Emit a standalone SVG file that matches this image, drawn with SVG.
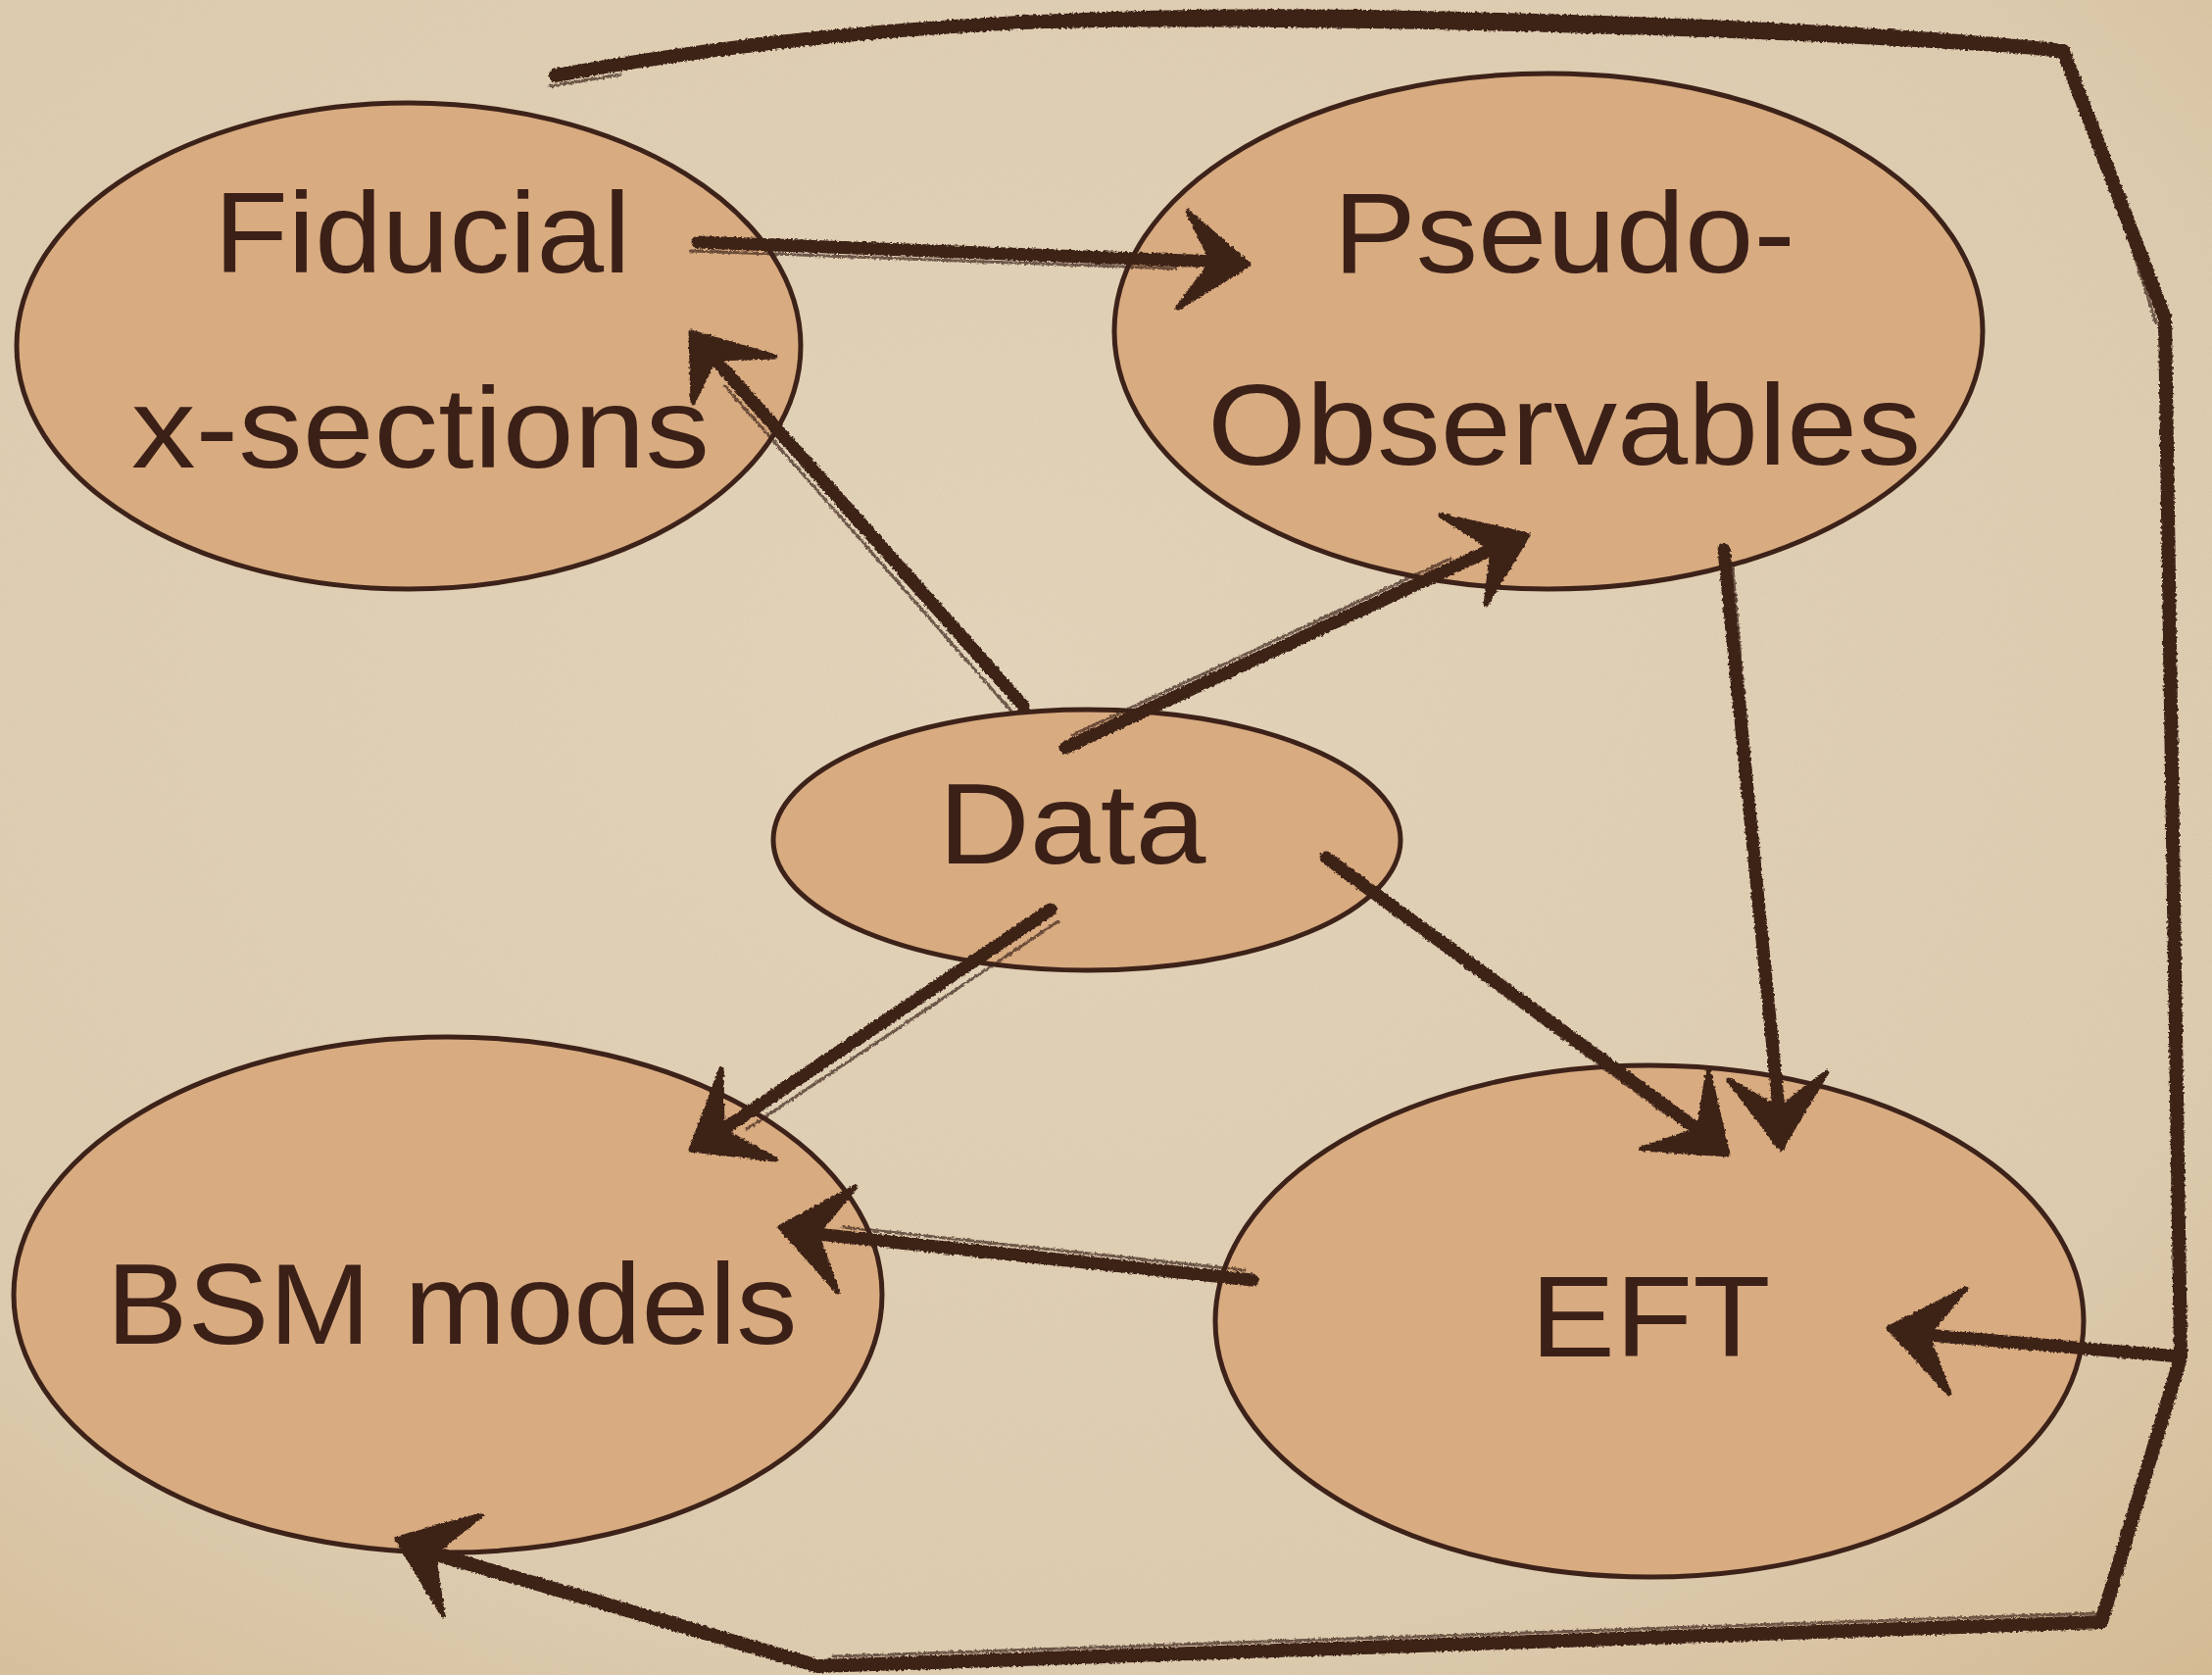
<svg xmlns="http://www.w3.org/2000/svg" width="2257" height="1709" viewBox="0 0 2257 1709">
  <defs>
    <radialGradient id="paper" cx="0.45" cy="0.4" r="0.85">
      <stop offset="0" stop-color="#e6d8bf"/>
      <stop offset="0.7" stop-color="#e0cfb3"/>
      <stop offset="1" stop-color="#d6bb92"/>
    </radialGradient>
    <filter id="grain" x="0" y="0" width="100%" height="100%">
      <feTurbulence type="fractalNoise" baseFrequency="0.9" numOctaves="2" seed="4" result="n"/>
      <feColorMatrix type="matrix" values="0 0 0 0 0.45  0 0 0 0 0.33  0 0 0 0 0.2  0 0 0 0.18 0"/>
    </filter>
    <filter id="brush" x="-5%" y="-5%" width="110%" height="110%">
      <feTurbulence type="fractalNoise" baseFrequency="0.35" numOctaves="2" seed="7" result="t"/>
      <feDisplacementMap in="SourceGraphic" in2="t" scale="4" xChannelSelector="R" yChannelSelector="G"/>
    </filter>
    <style>
      .node ellipse { fill: #d8ab80; stroke: #3d2219; stroke-width: 5; }
      .label { font-family: "Liberation Sans", "DejaVu Sans", sans-serif; font-size: 116px; fill: #3b2017; text-anchor: middle; }
      .shaft { fill: none; stroke: #3d2219; stroke-width: 13; stroke-linecap: round; stroke-linejoin: round; }
      .hair { fill: none; stroke: #3d2219; stroke-width: 3; stroke-linecap: round; opacity: 0.7; }
      .head { fill: #3d2219; stroke: #3d2219; stroke-width: 5; stroke-linejoin: round; }
    </style>
  </defs>

  <!-- paper background -->
  <rect width="2257" height="1709" fill="url(#paper)"/>
  <rect width="2257" height="1709" filter="url(#grain)"/>

  <!-- nodes -->
  <g id="node-fiducial" class="node">
    <ellipse cx="417" cy="353" rx="400" ry="248"/>
    <text class="label" x="431" y="278" textLength="425" lengthAdjust="spacingAndGlyphs">Fiducial</text>
    <text class="label" x="429" y="477" textLength="590" lengthAdjust="spacingAndGlyphs">x-sections</text>
  </g>
  <g id="node-pseudo" class="node">
    <ellipse cx="1580" cy="338" rx="443" ry="263"/>
    <text class="label" x="1596" y="278" textLength="471" lengthAdjust="spacingAndGlyphs">Pseudo-</text>
    <text class="label" x="1596" y="474" textLength="728" lengthAdjust="spacingAndGlyphs">Observables</text>
  </g>
  <g id="node-data" class="node">
    <ellipse cx="1109" cy="857" rx="320" ry="133"/>
    <text class="label" x="1094" y="881" textLength="273" lengthAdjust="spacingAndGlyphs">Data</text>
  </g>
  <g id="node-bsm" class="node">
    <ellipse cx="457" cy="1321" rx="443" ry="263"/>
    <text class="label" x="461" y="1371" textLength="705" lengthAdjust="spacingAndGlyphs">BSM models</text>
  </g>
  <g id="node-eft" class="node">
    <ellipse cx="1683" cy="1348" rx="443" ry="261"/>
    <text class="label" x="1684" y="1384" textLength="245" lengthAdjust="spacingAndGlyphs">EFT</text>
  </g>

  <!-- connectors -->
  <g id="connectors" filter="url(#brush)">
    <!-- Fiducial -> Pseudo-Observables -->
    <path class="shaft" d="M712 247 L1240 267"/>
    <path class="hair" d="M705 256 L1200 274"/>
    <polygon class="head" points="1274,270 1212,216 1237,267 1202,314"/>

    <!-- Data -> Fiducial -->
    <path class="shaft" d="M1044 720 L729 366"/>
    <path class="hair" d="M1034 728 L740 394"/>
    <polygon class="head" points="705,339 791,364 729,366 707,411"/>

    <!-- Data -> Pseudo-Observables -->
    <path class="shaft" d="M1087 763 L1523 560"/>
    <path class="hair" d="M1094 750 L1480 570"/>
    <polygon class="head" points="1559,546 1470,526 1523,560 1516,617"/>

    <!-- Pseudo-Observables -> EFT -->
    <path class="shaft" d="M1759 561 L1815 1132"/>
    <path class="hair" d="M1768 580 L1810 1060"/>
    <polygon class="head" points="1817,1172 1864,1094 1815,1132 1764,1102"/>

    <!-- Data -> EFT -->
    <path class="shaft" d="M1353 875 L1733 1153"/>
    <path class="hair" d="M1362 888 L1702 1138"/>
    <polygon class="head" points="1763,1178 1743,1092 1733,1153 1675,1172"/>

    <!-- Data -> BSM models -->
    <path class="shaft" d="M1072 928 L737 1153"/>
    <path class="hair" d="M1080 940 L762 1152"/>
    <polygon class="head" points="705,1173 736,1091 737,1153 791,1183"/>

    <!-- EFT -> BSM models -->
    <path class="shaft" d="M1278 1306 L833 1259"/>
    <path class="hair" d="M1270 1296 L860 1252"/>
    <polygon class="head" points="796,1252 873,1211 833,1259 855,1318"/>

    <!-- outer loop: feedback to EFT and BSM models -->
    <path class="shaft" style="stroke-width:14" d="M567 77 C 820 30, 1100 12, 1396 17 C 1700 22, 1950 35, 2105 52 L2209 325 L2225 1385 L2144 1655 L835 1700 L442 1585"/>
    <!-- heavier brush load along the top arc -->
    <path class="shaft" style="stroke-width:10" d="M760 45 C 950 22, 1150 20, 1400 24 C 1650 28, 1850 36, 2040 48"/>
    <path class="hair" d="M600 72 C 850 27, 1100 22, 1380 26 M2114 62 L2200 330 M2140 1646 L850 1690"/>
    <path class="hair" d="M561 88 L633 76"/>
    <polygon class="head" points="405,1570 491,1546 442,1585 452,1648"/>

    <path class="shaft" d="M2224 1384 L1966 1362"/>
    <polygon class="head" points="1927,1355 2006,1315 1966,1362 1989,1422"/>
  </g>
</svg>
